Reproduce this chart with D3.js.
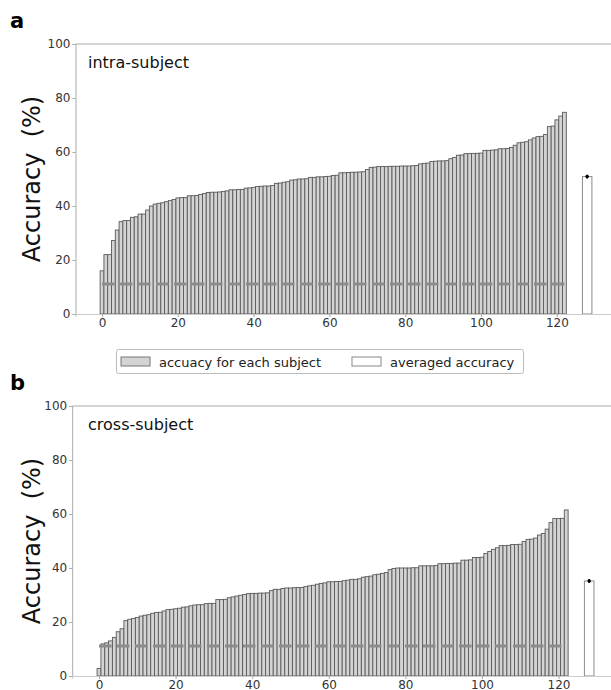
<!DOCTYPE html>
<html>
<head>
<meta charset="utf-8">
<script src="https://cdn.jsdelivr.net/npm/d3@7"></script>
<style>
  body { margin: 0; background: #fff; }
  svg { display: block; font-family: "DejaVu Sans", sans-serif; }
</style>
</head>
<body>
<svg id="chart" width="611" height="690"></svg>
<script>
// sorted per-subject accuracies (%)
const intraAcc = [16.0, 22.0, 22.0, 27.2, 31.1, 34.2, 34.6, 34.6, 35.8, 36.0,
  37.0, 37.0, 38.5, 40.0, 40.7, 41.0, 41.2, 41.6, 42.0, 42.4,
  43.0, 43.1, 43.1, 43.8, 43.8, 43.9, 44.3, 44.6, 45.0, 45.1,
  45.1, 45.2, 45.4, 45.6, 46.0, 46.0, 46.1, 46.1, 46.6, 46.7,
  46.9, 47.2, 47.3, 47.4, 47.4, 47.6, 48.4, 48.5, 48.8, 49.0,
  49.6, 49.7, 50.0, 50.0, 50.1, 50.6, 50.6, 50.8, 50.8, 50.9,
  51.0, 51.3, 51.4, 52.3, 52.3, 52.4, 52.5, 52.5, 52.6, 52.7,
  53.5, 54.3, 54.4, 54.6, 54.6, 54.6, 54.7, 54.7, 54.7, 54.8,
  54.8, 54.8, 54.9, 55.0, 55.6, 55.8, 55.9, 56.5, 56.6, 56.7,
  56.7, 56.8, 57.5, 58.0, 58.8, 58.9, 59.4, 59.4, 59.5, 59.5,
  59.6, 60.6, 60.6, 60.7, 60.8, 61.2, 61.2, 61.3, 61.7, 62.5,
  63.4, 63.6, 63.8, 64.5, 65.2, 65.7, 65.8, 66.5, 69.4, 69.6,
  71.9, 73.3, 74.7];

const crossAcc = [2.8, 11.9, 12.3, 13.0, 14.3, 16.4, 17.5, 20.5, 21.0, 21.3,
  21.7, 22.2, 22.5, 22.7, 23.2, 23.5, 23.6, 24.1, 24.6, 24.7,
  24.9, 25.1, 25.5, 25.6, 26.0, 26.3, 26.4, 26.4, 26.8, 26.9,
  26.9, 28.3, 28.3, 28.4, 29.0, 29.3, 29.6, 29.9, 30.2, 30.5,
  30.6, 30.6, 30.7, 30.7, 30.8, 31.6, 32.1, 32.1, 32.4, 32.6,
  32.6, 32.7, 32.8, 32.8, 33.1, 33.4, 33.6, 34.0, 34.3, 34.5,
  34.9, 34.9, 35.0, 35.0, 35.3, 35.5, 35.8, 35.8, 36.0, 36.6,
  36.8, 37.0, 37.5, 37.7, 38.0, 38.3, 39.4, 39.8, 40.0, 40.0,
  40.0, 40.0, 40.1, 40.1, 40.8, 40.8, 40.8, 40.8, 40.9, 41.6,
  41.6, 41.7, 41.7, 41.8, 41.8, 42.9, 42.9, 43.0, 43.9, 43.9,
  44.0, 45.4, 46.1, 46.9, 47.5, 48.3, 48.3, 48.4, 48.7, 48.7,
  48.8, 49.8, 50.6, 50.7, 51.1, 52.2, 52.8, 54.4, 56.8, 58.3,
  58.3, 58.4, 61.5];

const averages = [50.9, 35.2];
const avgErrors = [0.7, 0.7];
const avgPosition = 128;
const chanceLevel = 11.1;

const xTicks = [0, 20, 40, 60, 80, 100, 120];
const yTicks = [0, 20, 40, 60, 80, 100];
const panelTitles = ["intra-subject", "cross-subject"];
const panelLetters = ["a", "b"];
const legendLabels = ["accuacy for each subject", "averaged accuracy"];

const svg = d3.select("#chart");

const panels = [
  { values: intraAcc, top: 44, bottom: 314, left: 75.5, right: 613.7 },
  { values: crossAcc, top: 406, bottom: 676, left: 72.2, right: 616 }
];

panels.forEach((p, k) => {
  const x = d3.scaleLinear().domain([-7, 135]).range([p.left, p.right]);
  const y = d3.scaleLinear().domain([0, 100]).range([p.bottom, p.top]);
  const g = svg.append("g");

  // bars
  const bw = x(1) - x(0);
  g.selectAll("rect.subj")
    .data(p.values)
    .enter().append("rect")
    .attr("class", "subj")
    .attr("x", (d, i) => x(i) - bw / 2)
    .attr("y", d => y(d))
    .attr("width", bw)
    .attr("height", d => y(0) - y(d))
    .attr("fill", "#d4d4d4")
    .attr("stroke", "#5a5a5a")
    .attr("stroke-width", 0.9);

  // chance level
  g.append("line")
    .attr("x1", x(0)).attr("x2", x(p.values.length - 1))
    .attr("y1", y(chanceLevel)).attr("y2", y(chanceLevel))
    .attr("stroke", "#8c8c8c")
    .attr("stroke-width", 3)
    .attr("stroke-dasharray", "12.5,5.5");

  // averaged bar + error bar
  const aw = x(2.5) - x(0);
  g.append("rect")
    .attr("x", x(avgPosition) - aw / 2)
    .attr("y", y(averages[k]))
    .attr("width", aw)
    .attr("height", y(0) - y(averages[k]))
    .attr("fill", "#fff")
    .attr("stroke", "#8a8a8a")
    .attr("stroke-width", 1);
  const cx = x(avgPosition);
  g.append("line")
    .attr("x1", cx).attr("x2", cx)
    .attr("y1", y(averages[k] - avgErrors[k]))
    .attr("y2", y(averages[k] + avgErrors[k]))
    .attr("stroke", "#000").attr("stroke-width", 1.6);
  g.append("circle")
    .attr("cx", cx).attr("cy", y(averages[k]))
    .attr("r", 1.8).attr("fill", "#000");

  // axes
  const yAxis = g.append("g")
    .attr("transform", `translate(${p.left},0)`)
    .call(d3.axisLeft(y).tickValues(yTicks).tickSize(3).tickPadding(2));
  const xAxis = g.append("g")
    .attr("transform", `translate(0,${p.bottom})`)
    .call(d3.axisBottom(x).tickValues(xTicks).tickSize(3).tickPadding(1));
  [yAxis, xAxis].forEach(a => {
    a.select(".domain").attr("stroke", "#aaa");
    a.selectAll(".tick line").attr("stroke", "#aaa");
    a.selectAll(".tick text")
      .attr("fill", "#333")
      .style("font-size", "12px")
      .style("font-family", "DejaVu Sans, sans-serif");
  });
  xAxis.select(".domain").attr("stroke", "#ccc");

  // top spine
  g.append("line")
    .attr("x1", p.left).attr("x2", p.right)
    .attr("y1", p.top).attr("y2", p.top)
    .attr("stroke", "#aaa");

  // titles
  g.append("text")
    .attr("x", 88).attr("y", p.top + 24)
    .attr("font-size", 16).attr("fill", "#111")
    .text(panelTitles[k]);

  g.append("text")
    .attr("x", 10).attr("y", p.top - 16)
    .attr("font-size", 21).attr("font-weight", "bold")
    .text(panelLetters[k]);

  g.append("text")
    .attr("transform", `translate(40,${(p.top + p.bottom) / 2}) rotate(-90)`)
    .attr("text-anchor", "middle")
    .attr("font-size", 24).attr("fill", "#111")
    .text("Accuracy\u00a0 (%)");
});

// legend
const leg = svg.append("g");
leg.append("rect")
  .attr("x", 116.5).attr("y", 349.5).attr("width", 407).attr("height", 24)
  .attr("rx", 2).attr("fill", "#fff").attr("stroke", "#bbb");
const legX = [121, 352];
legX.forEach((lx, i) => {
  leg.append("rect")
    .attr("x", lx).attr("y", 357).attr("width", 29).attr("height", 9)
    .attr("fill", i === 0 ? "#d4d4d4" : "#fff")
    .attr("stroke", i === 0 ? "#777" : "#888");
  leg.append("text")
    .attr("x", lx + 38).attr("y", 366.5)
    .attr("font-size", 13).attr("fill", "#222")
    .text(legendLabels[i]);
});
</script>
</body>
</html>
